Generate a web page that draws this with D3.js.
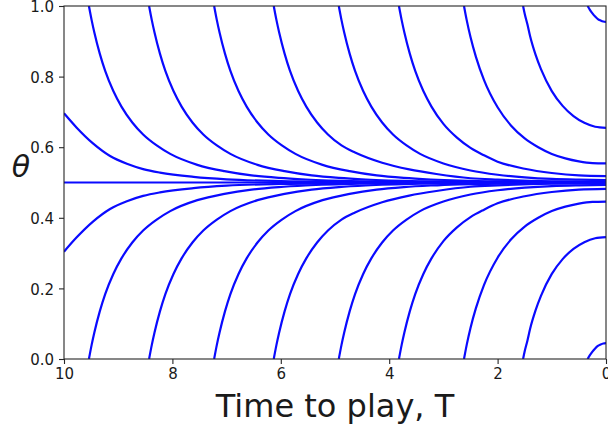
<!DOCTYPE html>
<html>
<head>
<meta charset="utf-8">
<script src="https://cdn.jsdelivr.net/npm/d3@7"></script>
<style>
  html, body { margin: 0; padding: 0; background: #ffffff; }
  svg { display: block; }
  text { font-family: "DejaVu Sans", sans-serif; fill: #1a1a1a; }
</style>
</head>
<body>
<div id="chart"></div>
<script>
// ---- data ----
const xTicks = [10, 8, 6, 4, 2, 0];
const yTicks = [0, 0.2, 0.4, 0.6, 0.8, 1.0];
const xLabel = "Time to play, T";
const yLabel = "θ";

const midline = [[10, 0.5], [0, 0.5]];

const upper1 = [[10,.696],[9.77,.656],[9.46,.610],[9.15,.575],[8.84,.553],[8.54,.538],[8.23,.528],[7.61,.516],[7.0,.509],[6.0,.504],[5.0,.502],[3.0,.5005],[0,.500]];
const upper2 = [[9.54,1],[9.49,.960],[9.44,.925],[9.34,.865],[9.24,.816],[9.09,.759],[8.94,.715],[8.74,.670],[8.54,.636],[8.29,.605],[8.04,.581],[7.54,.550],[7.04,.532],[6.54,.520],[6.04,.513],[5.54,.5085],[4.54,.5036],[3.54,.5015],[0,.5002]];
const upper3 = [[8.43,1],[8.38,.960],[8.33,.925],[8.23,.865],[8.13,.816],[7.98,.759],[7.83,.715],[7.63,.670],[7.43,.636],[7.18,.605],[6.93,.581],[6.43,.550],[5.93,.532],[5.43,.520],[4.93,.513],[4.43,.5085],[3.43,.5036],[2.43,.5015],[0,.5005]];
const upper4 = [[7.23,1],[7.18,.960],[7.13,.925],[7.03,.865],[6.93,.816],[6.78,.759],[6.63,.715],[6.43,.670],[6.23,.636],[5.98,.605],[5.73,.581],[5.23,.550],[4.73,.532],[4.23,.520],[3.73,.513],[3.23,.5085],[2,.503],[1,.5017],[0,.501]];
const upper5 = [[6.13,1],[6.08,.960],[6.03,.925],[5.93,.865],[5.83,.816],[5.68,.759],[5.53,.715],[5.33,.670],[5.13,.636],[4.88,.605],[4.63,.585],[4.13,.556],[3.63,.537],[3.13,.524],[2.5,.512],[2,.508],[1,.5036],[0,.5025]];
const upper6 = [[4.93,1],[4.88,.960],[4.83,.925],[4.73,.865],[4.63,.816],[4.48,.759],[4.33,.715],[4.13,.670],[3.93,.636],[3.68,.605],[3.43,.581],[3.0,.554],[2.5,.534],[2.0,.522],[1.5,.5145],[1.0,.510],[0.5,.508],[0,.507]];
const upper7 = [[3.82,1],[3.77,.960],[3.72,.925],[3.62,.865],[3.52,.816],[3.37,.759],[3.22,.715],[3.0,.666],[2.75,.627],[2.5,.598],[2.25,.577],[2.0,.559],[1.5,.539],[1.0,.527],[0.5,.520],[0,.518]];
const upper8 = [[2.62,1],[2.57,.960],[2.5,.912],[2.4,.856],[2.25,.790],[2.0,.713],[1.75,.661],[1.5,.625],[1.25,.600],[1.0,.581],[0.75,.5685],[0.5,.560],[0.25,.555],[0,.554]];
const upper9 = [[1.53,1],[1.5,.978],[1.45,.948],[1.4,.914],[1.3,.862],[1.2,.821],[1.0,.759],[0.8,.717],[0.6,.688],[0.4,.669],[0.2,.658],[0,.655]];
const upper10 = [[0.34,1],[0.3,.990],[0.25,.979],[0.2,.970],[0.15,.963],[0.1,.959],[0.05,.956],[0,.955]];

const lower1 = [[10,.304],[9.77,.344],[9.46,.390],[9.15,.425],[8.84,.447],[8.54,.462],[8.23,.472],[7.61,.484],[7.0,.491],[6.0,.496],[5.0,.498],[3.0,.4995],[0,.500]];
const lower2 = [[9.54,0],[9.49,.040],[9.44,.075],[9.34,.135],[9.24,.184],[9.09,.241],[8.94,.285],[8.74,.330],[8.54,.364],[8.29,.395],[8.04,.419],[7.54,.450],[7.04,.468],[6.54,.480],[6.04,.487],[5.54,.4915],[4.54,.4964],[3.54,.4985],[0,.4998]];
const lower3 = [[8.43,0],[8.38,.040],[8.33,.075],[8.23,.135],[8.13,.184],[7.98,.241],[7.83,.285],[7.63,.330],[7.43,.364],[7.18,.395],[6.93,.419],[6.43,.450],[5.93,.468],[5.43,.480],[4.93,.487],[4.43,.4915],[3.43,.4964],[2.43,.4985],[0,.4995]];
const lower4 = [[7.23,0],[7.18,.040],[7.13,.075],[7.03,.135],[6.93,.184],[6.78,.241],[6.63,.285],[6.43,.330],[6.23,.364],[5.98,.395],[5.73,.419],[5.23,.450],[4.73,.468],[4.23,.480],[3.73,.487],[3.23,.4915],[2,.497],[1,.4983],[0,.499]];
const lower5 = [[6.13,0],[6.08,.040],[6.03,.075],[5.93,.135],[5.83,.184],[5.68,.241],[5.53,.285],[5.33,.330],[5.13,.364],[4.88,.395],[4.63,.415],[4.13,.444],[3.63,.463],[3.13,.476],[2.5,.488],[2,.492],[1,.4964],[0,.4975]];
const lower6 = [[4.93,0],[4.88,.040],[4.83,.075],[4.73,.135],[4.63,.184],[4.48,.241],[4.33,.285],[4.13,.330],[3.93,.364],[3.68,.395],[3.43,.419],[3.0,.446],[2.5,.466],[2.0,.478],[1.5,.4855],[1.0,.490],[0.5,.492],[0,.493]];
const lower7 = [[3.82,0],[3.77,.040],[3.72,.075],[3.62,.135],[3.52,.184],[3.37,.241],[3.22,.285],[3.0,.334],[2.75,.373],[2.5,.402],[2.25,.423],[2.0,.441],[1.5,.461],[1.0,.473],[0.5,.480],[0,.482]];
const lower8 = [[2.62,0],[2.57,.040],[2.5,.088],[2.4,.144],[2.25,.210],[2.0,.287],[1.75,.339],[1.5,.375],[1.25,.400],[1.0,.419],[0.75,.4315],[0.5,.440],[0.25,.445],[0,.446]];
const lower9 = [[1.53,0],[1.5,.022],[1.45,.052],[1.4,.086],[1.3,.138],[1.2,.179],[1.0,.241],[0.8,.283],[0.6,.312],[0.4,.331],[0.2,.342],[0,.345]];
const lower10 = [[0.34,0],[0.3,.010],[0.25,.021],[0.2,.030],[0.15,.037],[0.1,.041],[0.05,.044],[0,.045]];

const series = [midline,
  upper1, upper2, upper3, upper4, upper5, upper6, upper7, upper8, upper9, upper10,
  lower1, lower2, lower3, lower4, lower5, lower6, lower7, lower8, lower9, lower10];

// ---- layout ----
const W = 608, H = 432;
const plot = { left: 64, right: 606, top: 6, bottom: 359 };

const svg = d3.select("#chart").append("svg")
  .attr("width", W).attr("height", H);

const x = d3.scaleLinear().domain([10, 0]).range([plot.left, plot.right]);
const y = d3.scaleLinear().domain([0, 1]).range([plot.bottom, plot.top]);

svg.append("defs").append("clipPath").attr("id", "clip")
  .append("rect")
  .attr("x", plot.left).attr("y", plot.top)
  .attr("width", plot.right - plot.left).attr("height", plot.bottom - plot.top);

const line = d3.line()
  .x(d => x(d[0]))
  .y(d => y(d[1]))
  .curve(d3.curveMonotoneX);

svg.append("g").attr("clip-path", "url(#clip)")
  .selectAll("path").data(series).join("path")
  .attr("d", line)
  .attr("fill", "none")
  .attr("stroke", "#0a0aff")
  .attr("stroke-width", 2.2)
  .attr("stroke-linejoin", "round");

// axes
const xAxis = d3.axisBottom(x).tickValues(xTicks).tickFormat(d3.format("d"))
  .tickSize(5).tickPadding(4);
const yAxis = d3.axisLeft(y).tickValues(yTicks).tickFormat(d3.format(".1f"))
  .tickSize(5).tickPadding(5);

const gx = svg.append("g").attr("transform", `translate(0,${plot.bottom})`).call(xAxis);
const gy = svg.append("g").attr("transform", `translate(${plot.left},0)`).call(yAxis);
[gx, gy].forEach(g => {
  g.select(".domain").remove();
  g.selectAll(".tick line").attr("stroke", "#262626").attr("stroke-width", 1.1);
  g.selectAll(".tick text").style("font-size", "15px").attr("fill", "#262626")
    .style("font-family", "'DejaVu Sans', sans-serif");
});
gy.selectAll(".tick text").attr("dy", "0.38em");

// spines
svg.append("rect")
  .attr("x", plot.left).attr("y", plot.top)
  .attr("width", plot.right - plot.left).attr("height", plot.bottom - plot.top)
  .attr("fill", "none").attr("stroke", "#262626").attr("stroke-width", 1.1);

// labels
svg.append("text")
  .attr("x", (plot.left + plot.right) / 2).attr("y", 417)
  .attr("text-anchor", "middle")
  .style("font-size", "32px")
  .text(xLabel);

svg.append("text")
  .attr("x", 21).attr("y", 177)
  .attr("text-anchor", "middle")
  .style("font-size", "30px")
  .style("font-style", "italic")
  .text(yLabel);
</script>
</body>
</html>
